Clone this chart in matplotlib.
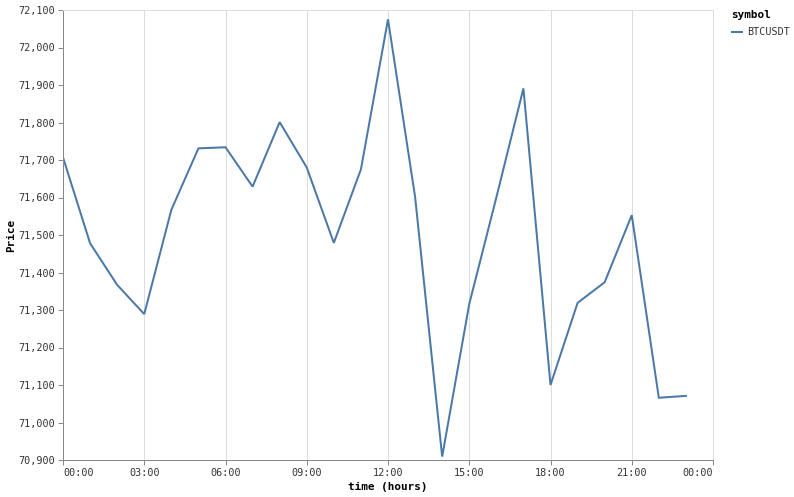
import matplotlib
matplotlib.use("Agg")
import matplotlib.pyplot as plt
from matplotlib.lines import Line2D
import numpy as np

# hourly close prices
hours = list(range(24))
price = [71707, 71478, 71367, 71289, 71567, 71731, 71734, 71629, 71801, 71680,
         71479, 71675, 72075, 71602, 70909, 71316, 71600, 71891, 71100, 71319,
         71374, 71553, 71066, 71071]
symbol = "BTCUSDT"
xticks = list(range(0, 25, 3))
xlabels = ["%02d:00" % (h % 24) for h in xticks]
yticks = list(range(70900, 72101, 100))

W, H = 794, 497
fig = plt.figure(figsize=(W / 100, H / 100), dpi=100)
ax = fig.add_axes([63 / W, (H - 460) / H, 650 / W, 450 / H])

line_col = "#4c78a8"
grid_col = "#dddddd"
axis_col = "#888888"
mono = "DejaVu Sans Mono"
px = 0.72  # one pixel in points

ax.plot(hours, price, color=line_col, lw=2 * px, solid_joinstyle="miter")

ax.set_xlim(0, 24)
ax.set_ylim(70900, 72100)
ax.set_xticks(xticks)
ax.set_yticks(yticks)
ax.set_xticklabels(xlabels, fontsize=7.3, family=mono)
ax.set_yticklabels(["{:,}".format(v) for v in yticks], fontsize=7.3, family=mono)
xl = ax.get_xticklabels()
xl[0].set_ha("left")
xl[-1].set_ha("right")

ax.grid(axis="x", color=grid_col, lw=px)
ax.set_axisbelow(True)
for s in ["top", "right"]:
    ax.spines[s].set_color(grid_col)
    ax.spines[s].set_linewidth(px)
for s in ["left", "bottom"]:
    ax.spines[s].set_color(axis_col)
    ax.spines[s].set_linewidth(px)
ax.tick_params(colors=axis_col, length=5 * px, width=px, pad=2, labelcolor="#333333")

ax.set_xlabel("time (hours)", fontsize=7.9, family=mono, fontweight="bold", labelpad=3)
ax.set_ylabel("Price", fontsize=7.9, family=mono, fontweight="bold")
ax.yaxis.set_label_coords(-0.072, 0.5)

# legend
fig.text(731 / W, 1 - 15 / H, "symbol", fontsize=7.9, family=mono, fontweight="bold",
         va="center", ha="left")
fig.add_artist(Line2D([732 / W, 742 / W], [1 - 32 / H, 1 - 32 / H], color=line_col, lw=2 * px))
fig.text(747 / W, 1 - 32 / H, symbol, fontsize=7.3, family=mono, va="center", ha="left",
         color="#333333")

fig.savefig("out.png", dpi=100)
